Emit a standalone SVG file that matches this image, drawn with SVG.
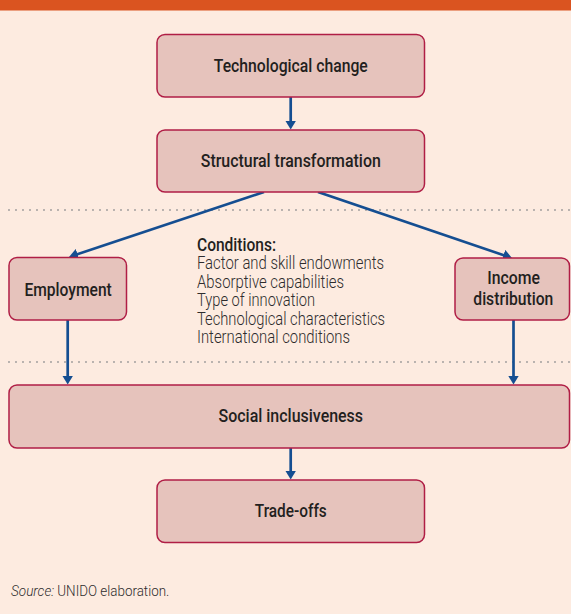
<svg xmlns="http://www.w3.org/2000/svg" width="571" height="614" viewBox="0 0 571 614">
  <style>
    .box { fill: #E6C3BC; stroke: #B01E45; stroke-width: 1.5; }
    .lbl { font-family: Roboto, "Liberation Sans", Arial, sans-serif; font-size: 17.5px; font-weight: 500; fill: #231F20; text-anchor: middle; }
    .cond { font-family: Roboto, "Liberation Sans", Arial, sans-serif; font-size: 18px; font-weight: 300; fill: #2E2C2D; }
    .condh { font-family: Roboto, "Liberation Sans", Arial, sans-serif; font-size: 18px; font-weight: 500; fill: #231F20; }
    .src { font-family: Roboto, "Liberation Sans", Arial, sans-serif; font-size: 14px; font-weight: 300; fill: #2E2C2D; }
    .arrow { stroke: #154E91; stroke-width: 2.7; fill: none; marker-end: url(#ah); }
    .dots { stroke: #A3A09F; stroke-width: 2; stroke-linecap: round; stroke-dasharray: 0 7; fill: none; }
  </style>
  <defs>
    <marker id="ah" markerUnits="userSpaceOnUse" markerWidth="10" markerHeight="11" refX="5" refY="5.5" orient="auto" viewBox="0 0 10 11">
      <path d="M0,0 L9,5.5 L0,11 z" fill="#154E91"/>
    </marker>
  </defs>

  <rect x="0" y="0" width="571" height="614" fill="#FDEBE0"/>
  <rect x="0" y="0" width="571" height="10.5" fill="#DA5420"/>

  <g id="separators">
    <line class="dots" x1="9" y1="210" x2="571" y2="210"/>
    <line class="dots" x1="9" y1="362" x2="571" y2="362"/>
  </g>

  <g id="connectors">
    <line class="arrow" x1="290.7" y1="97" x2="290.7" y2="125.5"/>
    <line class="arrow" x1="264" y1="192" x2="72.8" y2="255.7"/>
    <line class="arrow" x1="318" y1="192" x2="508.2" y2="256.7"/>
    <line class="arrow" x1="67.7" y1="320" x2="67.7" y2="380.5"/>
    <line class="arrow" x1="513.5" y1="320" x2="513.5" y2="380.5"/>
    <line class="arrow" x1="290.7" y1="448" x2="290.7" y2="475.5"/>
  </g>

  <g id="technological-change">
    <rect class="box" x="157" y="34.5" width="267.5" height="62.5" rx="8"/>
    <text class="lbl" x="290.8" y="71.7" textLength="154" lengthAdjust="spacingAndGlyphs">Technological change</text>
  </g>

  <g id="structural-transformation">
    <rect class="box" x="157" y="130" width="267.5" height="62" rx="8"/>
    <text class="lbl" x="290.8" y="166.7" textLength="180" lengthAdjust="spacingAndGlyphs">Structural transformation</text>
  </g>

  <g id="employment">
    <rect class="box" x="9" y="257.5" width="117.5" height="62.5" rx="8"/>
    <text class="lbl" x="68.1" y="295.7" textLength="87.4" lengthAdjust="spacingAndGlyphs">Employment</text>
  </g>

  <g id="income-distribution">
    <rect class="box" x="455" y="258" width="114.5" height="62" rx="8"/>
    <text class="lbl" x="513.7" y="283.7" textLength="52.7" lengthAdjust="spacingAndGlyphs">Income</text>
    <text class="lbl" x="513.3" y="304.7" textLength="80" lengthAdjust="spacingAndGlyphs">distribution</text>
  </g>

  <g id="conditions">
    <text class="condh" x="197" y="250.5" textLength="79" lengthAdjust="spacingAndGlyphs">Conditions:</text>
    <text class="cond" x="197" y="269" textLength="187" lengthAdjust="spacingAndGlyphs">Factor and skill endowments</text>
    <text class="cond" x="197" y="287.5" textLength="147" lengthAdjust="spacingAndGlyphs">Absorptive capabilities</text>
    <text class="cond" x="197" y="306" textLength="118" lengthAdjust="spacingAndGlyphs">Type of innovation</text>
    <text class="cond" x="197" y="324.5" textLength="188" lengthAdjust="spacingAndGlyphs">Technological characteristics</text>
    <text class="cond" x="197" y="343" textLength="153" lengthAdjust="spacingAndGlyphs">International conditions</text>
  </g>

  <g id="social-inclusiveness">
    <rect class="box" x="9" y="385" width="560.5" height="63" rx="8"/>
    <text class="lbl" x="290.8" y="421.7" textLength="144.5" lengthAdjust="spacingAndGlyphs">Social inclusiveness</text>
  </g>

  <g id="trade-offs">
    <rect class="box" x="157" y="480" width="267.5" height="62.5" rx="8"/>
    <text class="lbl" x="290.8" y="516.7" textLength="72" lengthAdjust="spacingAndGlyphs">Trade-offs</text>
  </g>

  <g id="source">
    <text class="src" x="11" y="595.5"><tspan font-style="italic" textLength="43" lengthAdjust="spacingAndGlyphs">Source:</tspan><tspan x="57.3" textLength="112" lengthAdjust="spacingAndGlyphs">UNIDO elaboration.</tspan></text>
  </g>
</svg>
